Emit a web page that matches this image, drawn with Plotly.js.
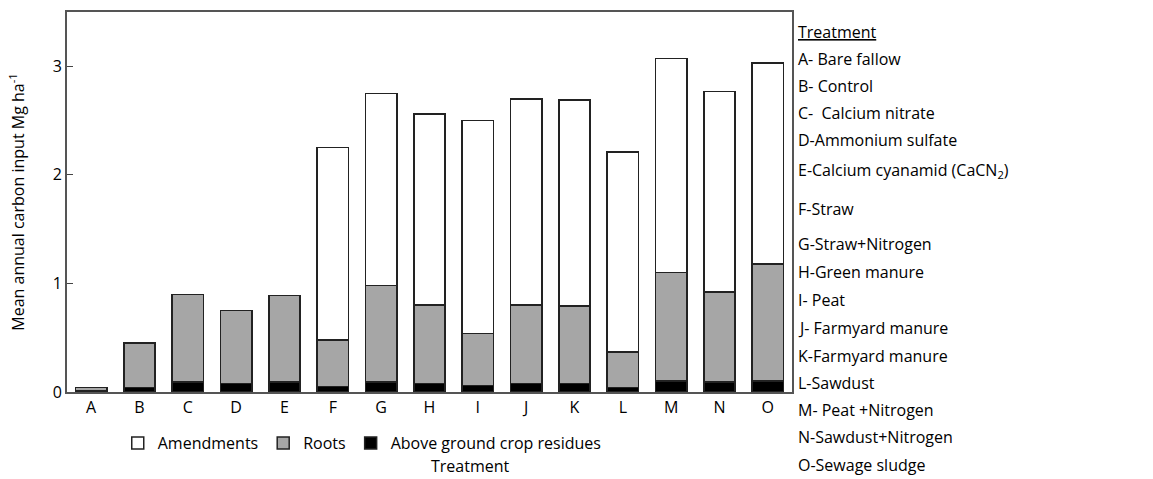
<!DOCTYPE html>
<html><head><meta charset="utf-8">
<script src="https://cdn.plot.ly/plotly-3.0.1.min.js"></script>
<style>body{margin:0;background:#fff}</style>
</head><body><div id="chart" style="width:1153px;height:479px"></div>
<script>
const treatments = ['A','B','C','D','E','F','G','H','I','J','K','L','M','N','O'];
const residues = [0.01,0.04,0.09,0.08,0.09,0.05,0.09,0.08,0.06,0.08,0.08,0.04,0.10,0.09,0.10];
const rootTops = [0.04,0.45,0.90,0.75,0.89,0.48,0.98,0.80,0.54,0.80,0.79,0.37,1.10,0.92,1.18];
const totals   = [0.04,0.45,0.90,0.75,0.89,2.25,2.75,2.56,2.50,2.70,2.69,2.21,3.07,2.77,3.03];
const legendText = ['Treatment','A- Bare fallow','B- Control','C-  Calcium nitrate','D-Ammonium sulfate',
  'E-Calcium cyanamid (CaCN<sub>2</sub>)','F-Straw','G-Straw+Nitrogen','H-Green manure','I- Peat',
  'J- Farmyard manure','K-Farmyard manure','L-Sawdust','M- Peat +Nitrogen','N-Sawdust+Nitrogen','O-Sewage sludge'];
const listY = [30,57,84,111,138,168,207,242,270,298,326,354,381,408,435,463];

const roots = rootTops.map((v,i) => v - residues[i]);
const amend = totals.map((v,i) => v - rootTops[i]);
const line = {color:'#222', width:1.5};

const data = [
  {type:'bar', x:treatments, y:residues, name:'Above ground crop residues', marker:{color:'#000', line:line}},
  {type:'bar', x:treatments, y:roots, name:'Roots', marker:{color:'#a6a6a6', line:line}},
  {type:'bar', x:treatments, y:amend, name:'Amendments', marker:{color:'#fff', line:line}}
];

const annotations = legendText.map((t,i) => ({
  text: i === 0 ? '<u>'+t+'</u>' : t, xref:'paper', yref:'paper', x:1.005, xanchor:'left',
  y: 1 - (listY[i]-12)/380, yanchor:'top', showarrow:false, font:{size:16}
})).map(a => Object.assign(a, {y: a.y + 11/380}));
annotations.push({text:'Treatment', xref:'paper', yref:'paper', x:0.556, xanchor:'center',
  y: 1 - (466-12)/380, yanchor:'middle', showarrow:false, font:{size:16}});

const layout = {
  barmode:'stack', bargap:0.35, showlegend:true,
  font:{family:'Open Sans, Liberation Sans, sans-serif', color:'#000', size:16},
  margin:{l:67, r:361, t:12, b:87},
  paper_bgcolor:'#fff', plot_bgcolor:'#fff',
  xaxis:{showline:true, mirror:true, linecolor:'#555', linewidth:2, ticks:'', tickfont:{size:16}},
  yaxis:{range:[0,3.5], tickvals:[0,1,2,3], showline:true, mirror:true, linecolor:'#555', linewidth:2,
    ticks:'inside', ticklen:6, showgrid:false, zeroline:false,
    title:{text:'Mean annual carbon input Mg ha<sup>-1</sup>', font:{size:16}}},
  legend:{orientation:'h', traceorder:'reversed', x:0.07, y:-0.09, yanchor:'top', font:{size:16}},
  annotations:annotations
};
Plotly.newPlot('chart', data, layout, {displayModeBar:false});
</script></body></html>
